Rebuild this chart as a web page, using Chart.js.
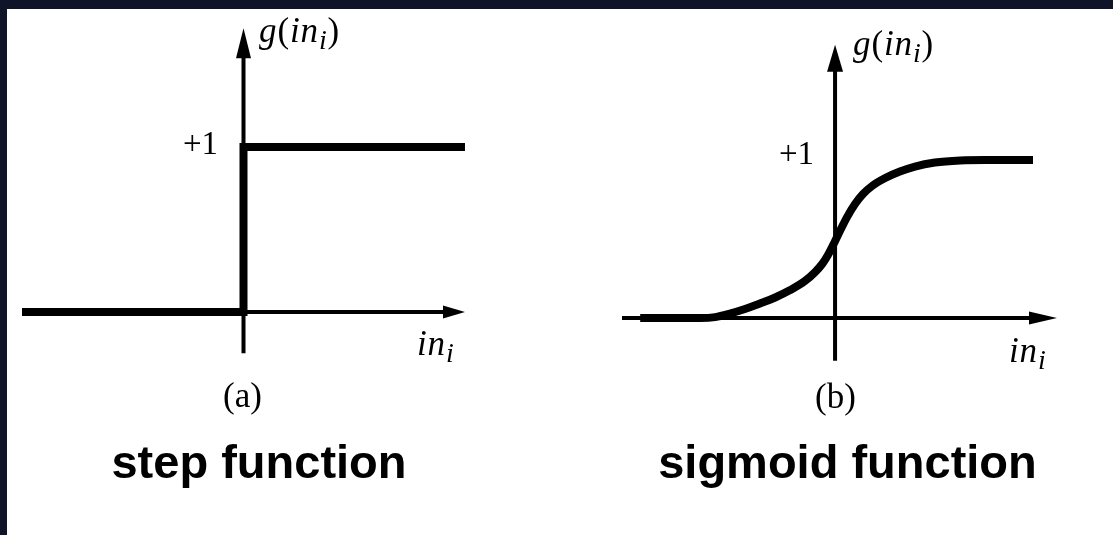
<!DOCTYPE html>
<html>
<head>
<meta charset="utf-8">
<script src="https://cdn.jsdelivr.net/npm/chart.js@4.4.1/dist/chart.umd.min.js"></script>
<style>
html,body{margin:0;padding:0;}
body{width:1113px;height:535px;background:#0f1428;position:relative;overflow:hidden;}
#panel{position:absolute;left:7px;top:9px;right:0;bottom:0;background:#fff;}
canvas{position:absolute;top:0;}
#cA{left:0;}
#cB{left:556px;}
.lbl{position:absolute;font-family:"Liberation Serif","Times New Roman",serif;color:#000;line-height:1;white-space:nowrap;}
.lbl i{font-style:italic;}
.lbl sub{font-size:0.8em;vertical-align:-0.24em;line-height:0;font-style:italic;}
.sp{letter-spacing:0.025em;}
.ctr{transform:translateX(-50%);}
.cap{position:absolute;font-family:"Liberation Sans",Arial,sans-serif;font-weight:bold;color:#000;line-height:1;white-space:nowrap;transform:translateX(-50%);}
</style>
</head>
<body>
<div id="panel"></div>
<canvas id="cA" width="556" height="535"></canvas>
<canvas id="cB" width="557" height="535"></canvas>
<div id="labels"></div>
<script>
// ---- data ----
const stepX = [-5, 0, 0, 5];
const stepY = [0, 0, 1, 1];
const sigmoidX = [-4.39, -3.04, -2.70, -2.37, -2.03, -1.69, -1.35, -1.01, -0.68, -0.45, -0.29, -0.16, -0.02, 0.11, 0.27, 0.45, 0.63, 0.83, 1.13, 1.46, 1.80, 2.25, 2.82, 3.38, 4.46];
const sigmoidY = [0, 0, 0.006, 0.028, 0.057, 0.092, 0.130, 0.177, 0.234, 0.291, 0.342, 0.399, 0.475, 0.551, 0.639, 0.722, 0.785, 0.835, 0.886, 0.927, 0.959, 0.984, 0.997, 1.0, 1.0];
const yTickLabel = '+1';
const panelTags = ['(a)', '(b)'];
const captions = ['step function', 'sigmoid function'];
const rangeAx = [-5, 5], rangeAy = [-0.25, 1.72];
const rangeBx = [-4.8, 5], rangeBy = [-0.27, 1.73];

// ---- axes with arrowheads ----
const axesPlugin = {
  id: 'arrowAxes',
  beforeDatasetsDraw(chart) {
    const o = chart.options.plugins.arrowAxes;
    const ctx = chart.ctx, xs = chart.scales.x, ys = chart.scales.y;
    const x0 = xs.getPixelForValue(0), y0 = ys.getPixelForValue(0);
    const xl = xs.getPixelForValue(xs.min), xr = xs.getPixelForValue(xs.max);
    const yt = ys.getPixelForValue(ys.max), yb = ys.getPixelForValue(ys.min);
    ctx.save();
    ctx.strokeStyle = '#000'; ctx.fillStyle = '#000';
    ctx.lineWidth = o.lw; ctx.lineCap = 'butt';
    ctx.beginPath(); ctx.moveTo(xl, y0); ctx.lineTo(xr - o.xHead[0] / 2, y0); ctx.stroke();
    ctx.beginPath(); ctx.moveTo(xr, y0); ctx.lineTo(xr - o.xHead[0], y0 - o.xHead[1]); ctx.lineTo(xr - o.xHead[0], y0 + o.xHead[1]); ctx.closePath(); ctx.fill();
    ctx.beginPath(); ctx.moveTo(x0, yb); ctx.lineTo(x0, yt + o.yHead[0] / 2); ctx.stroke();
    ctx.beginPath(); ctx.moveTo(x0, yt); ctx.lineTo(x0 - o.yHead[1], yt + o.yHead[0]); ctx.lineTo(x0 + o.yHead[1], yt + o.yHead[0]); ctx.closePath(); ctx.fill();
    ctx.restore();
  }
};

function makeChart(id, xs, ys, rx, ry, pad, interp, arrows) {
  return new Chart(document.getElementById(id), {
    type: 'scatter',
    data: {
      datasets: [{
        data: xs.map((x, i) => ({ x: x, y: ys[i] })),
        showLine: true,
        borderColor: '#000',
        backgroundColor: '#000',
        borderWidth: 8,
        pointRadius: 0,
        fill: false,
        clip: false,
        tension: 0,
        cubicInterpolationMode: interp,
        borderCapStyle: 'butt',
        borderJoinStyle: 'miter'
      }]
    },
    options: {
      responsive: false,
      animation: false,
      events: [],
      layout: { padding: pad },
      plugins: { legend: { display: false }, tooltip: { enabled: false }, arrowAxes: arrows },
      scales: {
        x: { type: 'linear', display: false, min: rx[0], max: rx[1] },
        y: { type: 'linear', display: false, min: ry[0], max: ry[1] }
      }
    },
    plugins: [axesPlugin]
  });
}

makeChart('cA', stepX, stepY, rangeAx, rangeAy,
  { left: 22, right: 91, top: 28.2, bottom: 181.75 }, 'default',
  { lw: 4, xHead: [22, 6.5], yHead: [30, 7.5] });
makeChart('cB', sigmoidX, sigmoidY, rangeBx, rangeBy,
  { left: 66, right: 56, top: 44.7, bottom: 174.3 }, 'monotone',
  { lw: 4, xHead: [28, 6.5], yHead: [27, 8] });

// ---- text labels ----
const gLabel = '<i>g</i>(<i>in</i><sub>i</sub>)';
const inLabel = '<i>in</i><sub>i</sub>';
const lbls = [
  { html: gLabel, cls: 'lbl sp', fs: 35, x: 259, base: 42 },
  { html: yTickLabel, cls: 'lbl', fs: 33, x: 183, base: 155 },
  { html: inLabel, cls: 'lbl sp', fs: 35, x: 417, base: 355 },
  { html: panelTags[0], cls: 'lbl ctr', fs: 35, x: 242.5, base: 407 },
  { html: gLabel, cls: 'lbl sp', fs: 35, x: 853, base: 55 },
  { html: yTickLabel, cls: 'lbl', fs: 33, x: 779, base: 165 },
  { html: inLabel, cls: 'lbl sp', fs: 35, x: 1009, base: 362 },
  { html: panelTags[1], cls: 'lbl ctr', fs: 35, x: 835.5, base: 408 },
  { html: captions[0], cls: 'cap', fs: 47, x: 259, base: 478, sans: true },
  { html: captions[1], cls: 'cap', fs: 47, x: 847.5, base: 478, sans: true }
];
const holder = document.getElementById('labels');
lbls.forEach(l => {
  const d = document.createElement('div');
  d.className = l.cls;
  d.innerHTML = l.html;
  d.style.fontSize = l.fs + 'px';
  d.style.left = l.x + 'px';
  d.style.top = (l.base - (l.sans ? 0.8465 : 0.8375) * l.fs) + 'px';
  holder.appendChild(d);
});
</script>
</body>
</html>
